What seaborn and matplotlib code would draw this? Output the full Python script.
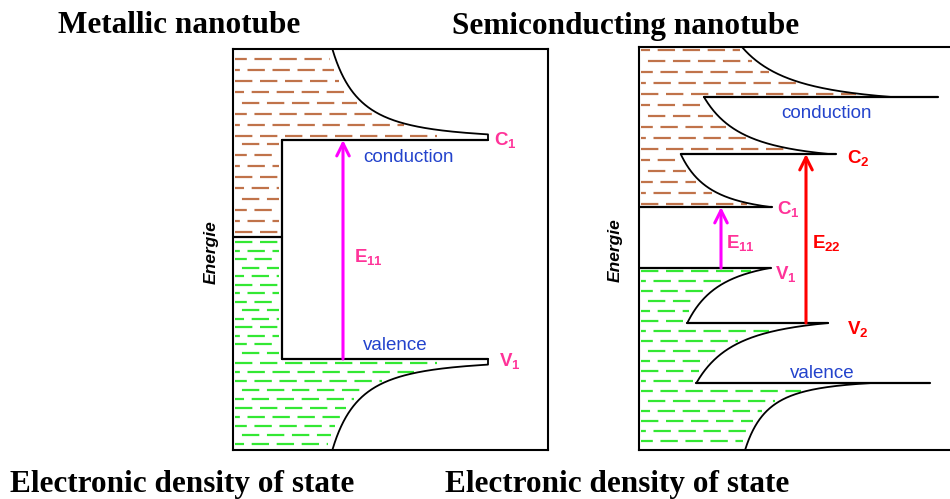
import numpy as np
import matplotlib
matplotlib.use("Agg")
import matplotlib.pyplot as plt
import seaborn as sns

# x = density of states, y = energy (arbitrary units)

# metallic nanotube
met_edges = [310, 91]           # C1, V1
met_fermi = 213
met_plateau = 49
met_line_end = 255
met_top = 401
met_a = [45, 45]
met_b = [520, 520]
met_c = [0.5, 0.5]

# semiconducting nanotube
sc_cond_edges = [243, 296, 353]     # C1, C2, C3
sc_cond_right = [133, 197, 299]
sc_cond_a = [-17.6, -13.7, -0.3]
sc_cond_b = [470.6, 644, 800]
sc_cond_c = [10, 10, 10]
sc_val_edges = [182, 127, 67]       # V1, V2, V3
sc_val_right = [132, 189, 291]
sc_val_a = [-19.5, -22.8, 60.7]
sc_val_b = [563, 671, 385]
sc_val_c = [14, 10, 5]
sc_top = 403

BROWN = '#c0734a'
GREEN = '#33e833'
BLUE = '#2343cc'
PINK = '#ff3399'
RED = '#ff0000'
MAGENTA = '#ff00ff'

sns.set_theme(style='white')
plt.rcParams['font.family'] = ['Liberation Sans', 'DejaVu Sans']
plt.rcParams['mathtext.fontset'] = 'custom'
plt.rcParams['mathtext.rm'] = 'Liberation Sans'
plt.rcParams['mathtext.bf'] = 'Liberation Sans:bold'
plt.rcParams['lines.scale_dashes'] = False


def dos(dy, a, b, c):
    return a + b / np.sqrt(np.abs(dy) + c)


def draw_curve(ax, edge, far, a, b, c, xmax):
    t = np.linspace(0, 1, 400) ** 2
    E = edge + (far - edge) * t
    x = np.minimum(dos(E - edge, a, b, c), xmax)
    sns.lineplot(x=x, y=E, sort=False, estimator=None, color='black',
                 linewidth=1.3, legend=False, ax=ax)


def dash_rows(ax, rows, ends, color, start=0):
    offs = [0, 9, 4, 13, 6]
    for i, (E, xe) in enumerate(zip(rows, ends)):
        if xe <= start + 3:
            continue
        ax.plot([start + 2, xe], [E, E], color=color, lw=1.6,
                linestyle=(offs[i % 5], (12.5, 5.5)), dash_capstyle='butt')


def sub_label(ax, x, y, letter, idx, color):
    ax.text(x, y, r'$\mathbf{%s}_{\mathbf{%s}}$' % (letter, idx), color=color,
            fontsize=13.5, ha='left', va='center')


fig = plt.figure(figsize=(9.5, 4.99), dpi=100)

# ---------------- metallic ----------------
ax1 = fig.add_axes([233 / 950, 1 - 450 / 499, 315 / 950, 401 / 499])
ax1.set_xlim(0, 315)
ax1.set_ylim(0, 401)

cond, val = met_edges
rows = np.arange(cond + 4, met_top, 11)
ends = np.minimum(dos(rows - cond, met_a[0], met_b[0], met_c[0]) - 6, 0.8 * met_line_end)
dash_rows(ax1, rows, ends, BROWN)
rows = np.arange(met_fermi + 5, cond - 2, 11)
dash_rows(ax1, rows, np.full(len(rows), met_plateau - 3), BROWN)
rows = np.arange(met_fermi - 5, val + 2, -8.5)
dash_rows(ax1, rows, np.full(len(rows), met_plateau - 3), GREEN)
rows = np.arange(val - 4, 0, -9)
ends = np.minimum(dos(val - rows, met_a[1], met_b[1], met_c[1]) - 6, 0.8 * met_line_end)
dash_rows(ax1, rows, ends, GREEN)

draw_curve(ax1, cond, met_top, met_a[0], met_b[0], met_c[0], met_line_end)
draw_curve(ax1, val, 0, met_a[1], met_b[1], met_c[1], met_line_end)
ax1.plot([met_plateau, met_line_end], [cond, cond], color='black', lw=1.6)
ax1.plot([met_plateau, met_line_end], [val, val], color='black', lw=1.6)
ax1.plot([met_plateau, met_plateau], [val, cond], color='black', lw=1.6)
ax1.plot([0, met_plateau], [met_fermi, met_fermi], color='black', lw=1.6)

ax1.annotate('', xy=(110, cond), xytext=(110, val),
             arrowprops=dict(arrowstyle='->,head_length=0.6,head_width=0.3',
                             mutation_scale=15, color=MAGENTA, lw=2.2,
                             shrinkA=0, shrinkB=0))
ax1.text(176, 293, 'conduction', color=BLUE, fontsize=13.5, ha='center', va='center')
ax1.text(162, 105, 'valence', color=BLUE, fontsize=13.5, ha='center', va='center')
sub_label(ax1, 261, cond - 1, 'C', '1', PINK)
sub_label(ax1, 266, val - 3, 'V', '1', PINK)
sub_label(ax1, 121, 192, 'E', '11', PINK)
ax1.text(-22, 198, 'Energie', rotation=90, fontstyle='italic', fontweight='bold',
         fontsize=12.5, ha='center', va='center', color='black')

# ---------------- semiconducting ----------------
ax2 = fig.add_axes([639 / 950, 1 - 450 / 499, 321 / 950, 403 / 499])
ax2.set_xlim(0, 321)
ax2.set_ylim(0, 403)

c_far = sc_cond_edges[1:] + [sc_top]
v_far = sc_val_edges[1:] + [0]

rows = np.arange(sc_cond_edges[0] + 3, sc_top, 11)
ends = []
for E in rows:
    n = max(i for i, e in enumerate(sc_cond_edges) if e <= E)
    ends.append(dos(E - sc_cond_edges[n], sc_cond_a[n], sc_cond_b[n], sc_cond_c[n]) - 5)
dash_rows(ax2, rows, np.array(ends), BROWN)

rows = np.arange(sc_val_edges[0] - 3, 0, -10)
ends = []
for E in rows:
    n = max(i for i, e in enumerate(sc_val_edges) if e >= E)
    ends.append(dos(sc_val_edges[n] - E, sc_val_a[n], sc_val_b[n], sc_val_c[n]) - 5)
dash_rows(ax2, rows, np.array(ends), GREEN)

left = 0
for n, edge in enumerate(sc_cond_edges):
    ax2.plot([left, sc_cond_right[n]], [edge, edge], color='black', lw=1.6)
    draw_curve(ax2, edge, c_far[n], sc_cond_a[n], sc_cond_b[n], sc_cond_c[n], sc_cond_right[n])
    left = dos(c_far[n] - edge, sc_cond_a[n], sc_cond_b[n], sc_cond_c[n])
left = 0
for n, edge in enumerate(sc_val_edges):
    ax2.plot([left, sc_val_right[n]], [edge, edge], color='black', lw=1.6)
    draw_curve(ax2, edge, v_far[n], sc_val_a[n], sc_val_b[n], sc_val_c[n], sc_val_right[n])
    left = dos(edge - v_far[n], sc_val_a[n], sc_val_b[n], sc_val_c[n])

ax2.annotate('', xy=(82, sc_cond_edges[0]), xytext=(82, sc_val_edges[0]),
             arrowprops=dict(arrowstyle='->,head_length=0.6,head_width=0.3',
                             mutation_scale=15, color=MAGENTA, lw=2.2,
                             shrinkA=0, shrinkB=0))
ax2.annotate('', xy=(167, sc_cond_edges[1]), xytext=(167, sc_val_edges[1]),
             arrowprops=dict(arrowstyle='->,head_length=0.6,head_width=0.3',
                             mutation_scale=15, color=RED, lw=2.2,
                             shrinkA=0, shrinkB=0))
ax2.text(188, 336, 'conduction', color=BLUE, fontsize=13.5, ha='center', va='center')
ax2.text(183, 77, 'valence', color=BLUE, fontsize=13.5, ha='center', va='center')
sub_label(ax2, 208, 291, 'C', '2', RED)
sub_label(ax2, 138, 240, 'C', '1', PINK)
sub_label(ax2, 136, 175, 'V', '1', PINK)
sub_label(ax2, 208, 120, 'V', '2', RED)
sub_label(ax2, 87, 206, 'E', '11', PINK)
sub_label(ax2, 173, 206, 'E', '22', RED)
ax2.text(-24, 200, 'Energie', rotation=90, fontstyle='italic', fontweight='bold',
         fontsize=12.5, ha='center', va='center', color='black')

for ax in (ax1, ax2):
    ax.set_xticks([])
    ax.set_yticks([])
    ax.set_xlabel('')
    ax.set_ylabel('')
    for s in ax.spines.values():
        s.set_color('black')
        s.set_linewidth(1.5)

title_kw = dict(family='Liberation Serif', fontweight='bold', fontsize=22.5,
                ha='left', va='baseline', color='black')
fig.text(58 / 950, 1 - 33 / 499, 'Metallic nanotube', **title_kw)
fig.text(452 / 950, 1 - 34 / 499, 'Semiconducting nanotube', **title_kw)
fig.text(10 / 950, 1 - 492 / 499, 'Electronic density of state', **title_kw)
fig.text(445 / 950, 1 - 492 / 499, 'Electronic density of state', **title_kw)

fig.savefig('out.png', dpi=100, facecolor='white')
